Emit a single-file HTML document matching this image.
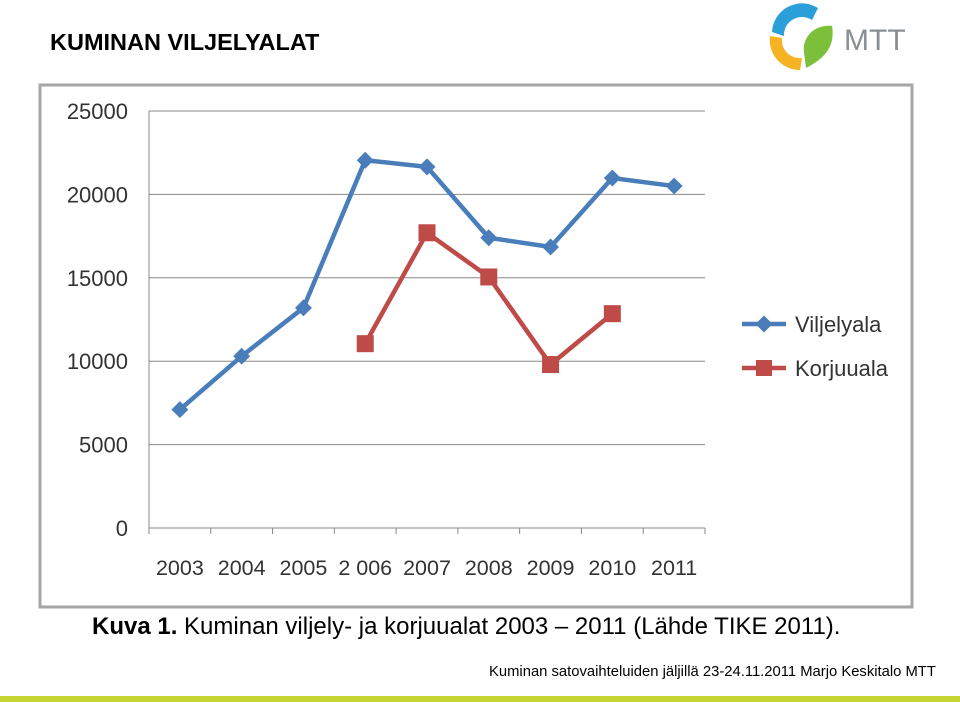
<!DOCTYPE html>
<html><head><meta charset="utf-8"><style>
body{margin:0;width:960px;height:702px;background:#fff;position:relative;overflow:hidden;font-family:"Liberation Sans",sans-serif}
#title{position:absolute;left:50px;top:29px;font-size:23.5px;font-weight:bold;color:#000}
#caption{position:absolute;left:92px;top:613px;font-size:24px;color:#000;white-space:nowrap}
#footer{position:absolute;left:489px;top:664px;font-size:14.8px;color:#000;white-space:nowrap}
#greenbar{position:absolute;left:0;top:696px;width:960px;height:6px;background:#c6d531}
</style></head><body>
<div id="title">KUMINAN VILJELYALAT</div>
<svg style="position:absolute;left:760px;top:0" width="200" height="75">
<path d="M58 8 A30 30 0 0 0 12 32 L24 36 A18 18 0 0 1 52 20 Z" fill="#2a9fd8"/>
<path d="M10 36 A30 30 0 0 0 40 70 L42 58 A18 18 0 0 1 22 38 Z" fill="#f5b324"/>
<path d="M46 68 C62 60 76 48 72 26 C54 24 42 38 44 52 Z" fill="#7bbf3a"/>
<text x="84" y="50" font-family="Liberation Sans" font-size="30" fill="#8a8f93">MTT</text>
</svg>
<svg style="position:absolute;left:0;top:0" width="960" height="702" id="chart"></svg>
<div id="caption"><b>Kuva 1.</b> Kuminan viljely- ja korjuualat 2003 – 2011 (Lähde TIKE 2011).</div>
<div id="footer">Kuminan satovaihteluiden jäljillä 23-24.11.2011 Marjo Keskitalo MTT</div>
<div id="greenbar"></div>
<script>
const categories=["2003","2004","2005","2 006","2007","2008","2009","2010","2011"];
const viljelyala=[7100,10300,13200,22050,21650,17400,16850,20980,20500];
const korjuuala=[null,null,null,11050,17700,15050,9800,12850,null];
const yTicks=[0,5000,10000,15000,20000,25000];
const svg=document.getElementById('chart');
const NS='http://www.w3.org/2000/svg';
function el(t,a,p){const e=document.createElementNS(NS,t);for(const k in a)e.setAttribute(k,a[k]);(p||svg).appendChild(e);return e;}
const x0=149,x1=705,yb=528,yt=111;
const xs=i=>x0+(x1-x0)/categories.length*(i+0.5);
const ys=v=>yb-(v/25000)*(yb-yt);
let f=el('rect',{x:40,y:85,width:872,height:522,fill:'#fff',stroke:'#a6a6a6','stroke-width':3});

yTicks.forEach(t=>{
 let g=el('line',{x1:x0,x2:x1,y1:ys(t),y2:ys(t),stroke:'#888','stroke-width':1});
 
 let l=el('text',{x:128,y:ys(t)+8,'text-anchor':'end','font-size':22,fill:'#333'});l.textContent=t;
 
});
let ax=el('line',{x1:x0,x2:x0,y1:yt,y2:yb,stroke:'#888'});
for(let i=0;i<=categories.length;i++){let tx=x0+(x1-x0)/categories.length*i;let tk=el('line',{x1:tx,x2:tx,y1:yb,y2:yb+6,stroke:'#888'});}
categories.forEach((c,i)=>{let t=el('text',{x:xs(i),y:575,'text-anchor':'middle','font-size':21.5,fill:'#333'});t.textContent=c;
 });
function series(vals,color,marker,name){
 let d='';vals.forEach((v,i)=>{if(v==null)return;d+=(d?'L':'M')+xs(i)+' '+ys(v);});
 let p=el('path',{d:d,fill:'none',stroke:color,'stroke-width':4.5});
 
 vals.forEach((v,i)=>{if(v==null)return;let m;
  if(marker=='d')m=el('rect',{x:xs(i)-6,y:ys(v)-6,width:12,height:12,fill:color,transform:`rotate(45 ${xs(i)} ${ys(v)})`});
  else m=el('rect',{x:xs(i)-8.5,y:ys(v)-8.5,width:17,height:17,fill:color});
  });
}
series(viljelyala,'#4a7ebb','d','viljelyala');
series(korjuuala,'#be4b48','s','korjuuala');
let lg=el('g',{});
el('line',{x1:742,x2:786,y1:324,y2:324,stroke:'#4a7ebb','stroke-width':4.5},lg);
el('rect',{x:758,y:318,width:12,height:12,fill:'#4a7ebb',transform:'rotate(45 764 324)'},lg);
let t1=el('text',{x:795,y:332,'font-size':22,fill:'#333'},lg);t1.textContent='Viljelyala';
el('line',{x1:742,x2:786,y1:368,y2:368,stroke:'#be4b48','stroke-width':4.5},lg);
el('rect',{x:756,y:360,width:16,height:16,fill:'#be4b48'},lg);
let t2=el('text',{x:795,y:376,'font-size':22,fill:'#333'},lg);t2.textContent='Korjuuala';
</script>
</body></html>
